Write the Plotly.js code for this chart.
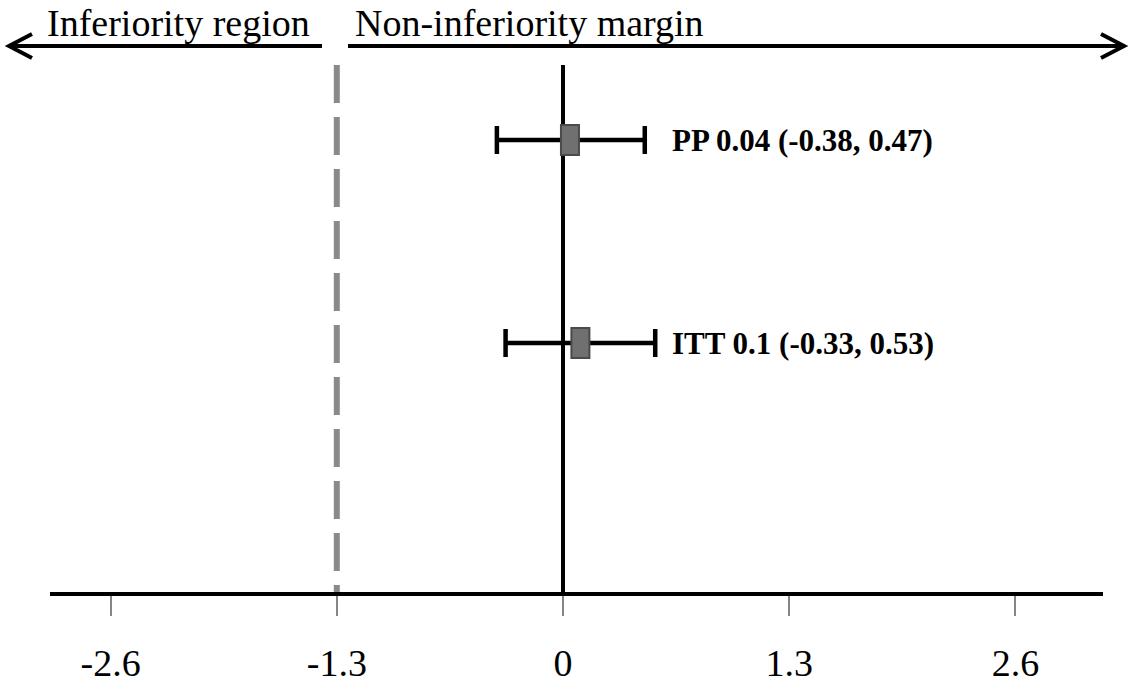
<!DOCTYPE html>
<html>
<head>
<meta charset="utf-8">
<script src="https://cdn.plot.ly/plotly-3.0.1.min.js"></script>
<style>html,body{margin:0;padding:0;background:#fff;}#chart{width:1132px;height:685px;}</style>
</head>
<body>
<div id="chart"></div>
<script>
// ---- data ----
var categories = ['PP', 'ITT'];
var estimates = [0.04, 0.1];
var lowerCI = [-0.38, -0.33];
var upperCI = [0.47, 0.53];
var tickValues = [-2.6, -1.3, 0, 1.3, 2.6];
var tickLabels = ['-2.6', '-1.3', '0', '1.3', '2.6'];
var nonInferiorityMargin = -1.3;
var regionLabels = ['Inferiority region', 'Non-inferiority margin'];

// ---- layout helpers ----
var W = 1132, H = 685;
var L = 50, R = 29, T = 65, B = 93;
var plotW = W - L - R, plotH = H - T - B;
function px(x) { return (x - L) / plotW; }
function py(y) { return (H - B - y) / plotH; }
var serif = "'Liberation Serif', 'Times New Roman', serif";

var trace = {
  type: 'scatter',
  mode: 'markers',
  x: estimates,
  y: categories,
  marker: {size: 2, color: 'rgba(0,0,0,0)'},
  error_x: {
    type: 'data',
    symmetric: false,
    array: estimates.map(function (e, i) { return upperCI[i] - e; }),
    arrayminus: estimates.map(function (e, i) { return e - lowerCI[i]; }),
    color: '#000',
    thickness: 4.5,
    width: 14
  },
  hoverinfo: 'skip',
  showlegend: false
};

var shapes = [
  {type: 'line', xref: 'x', yref: 'paper', x0: 0, x1: 0, y0: 0, y1: 1,
   line: {color: '#000', width: 4}, layer: 'below'},
  {type: 'line', xref: 'x', yref: 'paper', x0: nonInferiorityMargin, x1: nonInferiorityMargin, y0: 1, y1: 0,
   line: {color: '#8a8a8a', width: 6, dash: '38px,14px'}, layer: 'below'},
  // top arrows
  {type: 'line', xref: 'paper', yref: 'paper', x0: px(322), x1: px(9), y0: py(46), y1: py(46),
   line: {color: '#000', width: 4}},
  {type: 'path', xref: 'paper', yref: 'paper',
   path: 'M ' + px(32) + ' ' + py(34) + ' L ' + px(9) + ' ' + py(46) + ' L ' + px(32) + ' ' + py(58),
   line: {color: '#000', width: 4}},
  {type: 'line', xref: 'paper', yref: 'paper', x0: px(348), x1: px(1124), y0: py(46), y1: py(46),
   line: {color: '#000', width: 4}},
  {type: 'path', xref: 'paper', yref: 'paper',
   path: 'M ' + px(1101) + ' ' + py(34) + ' L ' + px(1124) + ' ' + py(46) + ' L ' + px(1101) + ' ' + py(58),
   line: {color: '#000', width: 4}}
];

categories.forEach(function (c, i) {
  shapes.push({
    type: 'rect', xref: 'x', yref: 'y',
    xsizemode: 'pixel', ysizemode: 'pixel',
    xanchor: estimates[i], yanchor: c,
    x0: -9, x1: 9, y0: -15, y1: 15,
    fillcolor: '#707070',
    line: {color: '#4a4a4a', width: 2},
    layer: 'above'
  });
});

var annotations = [
  {xref: 'paper', yref: 'paper', x: px(45), y: py(23), xanchor: 'left', yanchor: 'middle',
   text: regionLabels[0], showarrow: false, font: {family: serif, size: 38, color: '#000'}},
  {xref: 'paper', yref: 'paper', x: px(353), y: py(23), xanchor: 'left', yanchor: 'middle',
   text: regionLabels[1], showarrow: false, font: {family: serif, size: 38, color: '#000'}}
];

categories.forEach(function (c, i) {
  annotations.push({
    xref: 'paper', yref: 'y', x: px(670), y: c, xanchor: 'left', yanchor: 'middle',
    text: '<b>' + c + ' ' + estimates[i] + ' (' + lowerCI[i] + ', ' + upperCI[i] + ')</b>',
    showarrow: false, font: {family: serif, size: 31, color: '#000'}
  });
});

// y: PP at 140px, ITT at 343px
var unit = 203;
var layout = {
  width: W, height: H,
  margin: {l: L, r: R, t: T, b: B, pad: 0},
  paper_bgcolor: '#fff', plot_bgcolor: '#fff',
  showlegend: false,
  xaxis: {
    range: [-(563 - L) / 174, (W - R - 563) / 174],
    tickvals: tickValues, ticktext: tickLabels,
    showgrid: false, zeroline: false,
    showline: true, linecolor: '#000', linewidth: 4,
    ticks: 'outside', ticklen: 20, tickwidth: 2, tickcolor: '#858585',
    ticklabelstandoff: 14,
    tickfont: {family: serif, size: 38, color: '#000'},
    fixedrange: true
  },
  yaxis: {
    type: 'category',
    categoryorder: 'array', categoryarray: ['ITT', 'PP'],
    range: [-(H - B - 343) / unit, 1 + (140 - T) / unit],
    visible: false, showgrid: false, zeroline: false, fixedrange: true
  },
  shapes: shapes,
  annotations: annotations
};

Plotly.newPlot('chart', [trace], layout, {displayModeBar: false, staticPlot: true});
</script>
</body>
</html>
